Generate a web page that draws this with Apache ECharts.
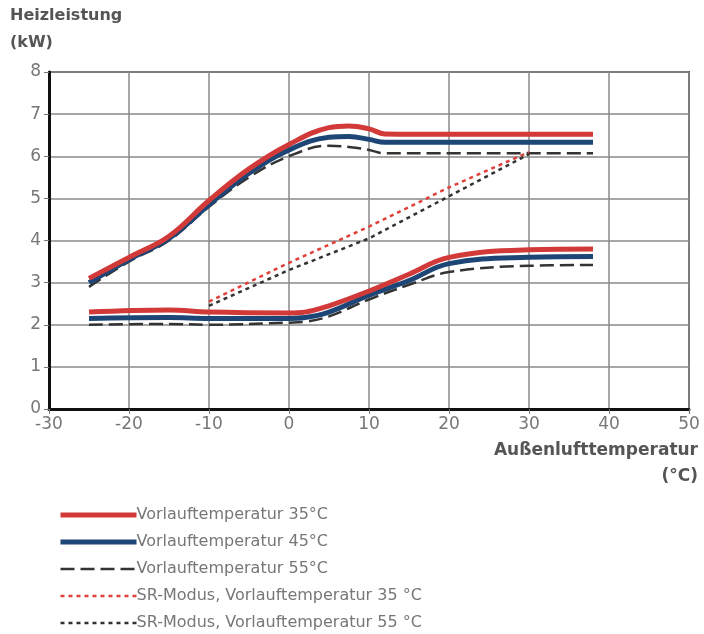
<!DOCTYPE html>
<html><head><meta charset="utf-8">
<script src="https://cdn.jsdelivr.net/npm/echarts@6/dist/echarts.min.js"></script>
<style>html,body{margin:0;padding:0;background:#fff}#c{width:704px;height:634px}</style>
</head><body><div id="c"></div>
<script>
const xTicks = [-30,-20,-10,0,10,20,30,40,50];
const yTicks = [0,1,2,3,4,5,6,7,8];
const names = ['Vorlauftemperatur 35°C','Vorlauftemperatur 45°C','Vorlauftemperatur 55°C','SR-Modus, Vorlauftemperatur 35 °C','SR-Modus, Vorlauftemperatur 55 °C'];

const upperX = [-25,-20,-15,-10,-5,0,5,7.5,10,12,20,30,38];
const red35Upper   = [3.1,3.6,4.1,4.95,5.7,6.28,6.68,6.72,6.65,6.53,6.52,6.52,6.52];
const blue45Upper  = [3.0,3.55,4.05,4.85,5.6,6.15,6.45,6.47,6.4,6.33,6.33,6.33,6.33];
const black55Upper = [2.9,3.5,4.0,4.8,5.5,6.0,6.25,6.22,6.15,6.07,6.07,6.07,6.07];

const lowerX = [-25,-15,-10,0,2,5,10,15,20,30,38];
const red35Lower   = [2.3,2.35,2.3,2.28,2.3,2.45,2.8,3.2,3.6,3.78,3.8];
const blue45Lower  = [2.15,2.17,2.15,2.15,2.17,2.3,2.7,3.05,3.45,3.6,3.62];
const black55Lower = [2.0,2.02,2.0,2.05,2.07,2.2,2.6,2.95,3.25,3.4,3.42];

const srX = [-10,0,10,20,30];
const sr35 = [2.55,3.47,4.33,5.26,6.1];
const sr55 = [2.45,3.3,4.05,5.05,6.05];

const pairs = (xs, ys) => xs.map((x,i)=>[x,ys[i]]);
const RED = '#d23a3a', BLUE = '#1d4677', BLACK = '#333333', SRRED = '#e0403a';
const FONT = 'DejaVu Sans';

const chart = echarts.init(document.getElementById('c'));
const mk = (name, xs, ys, color, width, type, smooth, z) => ({
  name, type:'line', data: pairs(xs, ys), symbol:'none', smooth, z,
  lineStyle:{color, width, type}, itemStyle:{color}
});
const legItem = (name, color, width, type) => ({name,
  itemStyle:{opacity:0}, lineStyle:{color, width, type}});
chart.setOption({
  animation:false,
  textStyle:{fontFamily:FONT},
  grid:{left:49,right:15,top:72,bottom:225,show:true,borderColor:'#555',borderWidth:2,backgroundColor:'transparent'},
  xAxis:{type:'value',min:-30,max:50,interval:10,
    axisLine:{show:true,onZero:false,lineStyle:{color:'#111',width:3}},
    axisTick:{show:true,length:5,lineStyle:{color:'#777'}},
    axisLabel:{color:'#777',fontSize:17,margin:7,fontFamily:FONT},
    splitLine:{show:true,lineStyle:{color:'#8a8a8a',width:1.5}}},
  yAxis:{type:'value',min:0,max:8,interval:1,
    axisLine:{show:true,onZero:false,lineStyle:{color:'#111',width:3}},
    axisTick:{show:true,length:5,lineStyle:{color:'#777'}},
    axisLabel:{color:'#777',fontSize:17,margin:8,fontFamily:FONT},
    splitLine:{show:true,lineStyle:{color:'#8a8a8a',width:1.5}}},
  legend:{orient:'vertical',left:58,top:507,height:127,padding:0,itemWidth:76,itemHeight:14,itemGap:11,
    textStyle:{color:'#777',fontSize:16,fontFamily:FONT,padding:[0,0,0,-5]},
    data:[legItem(names[0],RED,5,'solid'),legItem(names[1],BLUE,5,'solid'),
          legItem(names[2],BLACK,2.5,[14,6]),legItem(names[3],SRRED,2.5,[4,4]),
          legItem(names[4],BLACK,2.5,[4,4])]},
  graphic:[
    {type:'text',left:10,top:8,style:{text:'Heizleistung',fontSize:16,fontWeight:'bold',fill:'#555',fontFamily:FONT}},
    {type:'text',left:10,top:35,style:{text:'(kW)',fontSize:16,fontWeight:'bold',fill:'#555',fontFamily:FONT}},
    {type:'text',right:6,top:442,style:{text:'Außenlufttemperatur',fontSize:17,fontWeight:'bold',fill:'#555',fontFamily:FONT,align:'right'}},
    {type:'text',right:6,top:468,style:{text:'(°C)',fontSize:17,fontWeight:'bold',fill:'#555',fontFamily:FONT,align:'right'}}
  ],
  series:[
    mk(names[2], upperX, black55Upper, BLACK, 2.5, [14,6], 0.4, 3),
    mk(names[2], lowerX, black55Lower, BLACK, 2.5, [14,6], 0.4, 3),
    mk(names[1], upperX, blue45Upper, BLUE, 5, 'solid', 0.4, 4),
    mk(names[1], lowerX, blue45Lower, BLUE, 5, 'solid', 0.4, 4),
    mk(names[0], upperX, red35Upper, RED, 5, 'solid', 0.4, 5),
    mk(names[0], lowerX, red35Lower, RED, 5, 'solid', 0.4, 5),
    mk(names[3], srX, sr35, SRRED, 2.5, [4,4], false, 6),
    mk(names[4], srX, sr55, BLACK, 2.5, [4,4], false, 6)
  ]
});
</script></body></html>
